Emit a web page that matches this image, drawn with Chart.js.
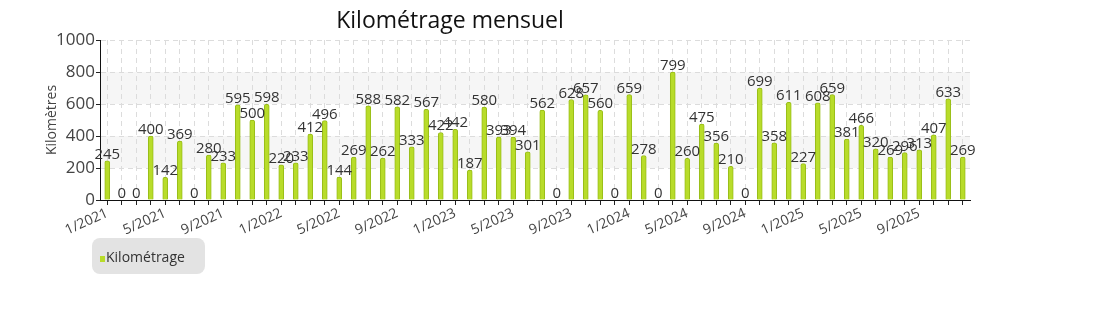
<!DOCTYPE html>
<html><head><meta charset="utf-8">
<script src="https://cdn.jsdelivr.net/npm/chart.js@4/dist/chart.umd.min.js"></script>
<style>html,body{margin:0;padding:0;background:#fff;}#wrap{width:1100px;height:320px;}</style>
</head><body><div id="wrap"><canvas id="c" width="1100" height="320"></canvas></div>
<script>
const chartTitle = 'Kilométrage mensuel';
const seriesName = 'Kilométrage';
const yAxisTitle = 'Kilomètres';
const months = [
 '1/2021','2/2021','3/2021','4/2021','5/2021','6/2021','7/2021','8/2021','9/2021','10/2021','11/2021','12/2021',
 '1/2022','2/2022','3/2022','4/2022','5/2022','6/2022','7/2022','8/2022','9/2022','10/2022','11/2022','12/2022',
 '1/2023','2/2023','3/2023','4/2023','5/2023','6/2023','7/2023','8/2023','9/2023','10/2023','11/2023','12/2023',
 '1/2024','2/2024','3/2024','4/2024','5/2024','6/2024','7/2024','8/2024','9/2024','10/2024','11/2024','12/2024',
 '1/2025','2/2025','3/2025','4/2025','5/2025','6/2025','7/2025','8/2025','9/2025','10/2025','11/2025','12/2025'];
const kilometres = [
 245,0,0,400,142,369,0,280,233,595,500,598,
 220,233,412,496,144,269,588,262,582,333,567,422,
 442,187,580,393,394,301,562,0,628,657,560,0,
 659,278,0,799,260,475,356,210,0,699,358,611,
 227,608,659,381,466,320,269,296,313,407,633,269];
const shownMonthLabels = ['1/2021','5/2021','9/2021','1/2022','5/2022','9/2022','1/2023','5/2023','9/2023','1/2024','5/2024','9/2024','1/2025','5/2025','9/2025'];
const shadedBands = [[200,400],[600,800]];

const FONT = '"Open Sans", "DejaVu Sans", sans-serif';
const TXT = '#444';

const bandsPlugin = {
  id: 'bands',
  beforeDraw(chart) {
    const {ctx, chartArea: a, scales: {y}} = chart;
    ctx.save();
    ctx.fillStyle = '#f6f6f6';
    shadedBands.forEach(([lo, hi]) => {
      const t = y.getPixelForValue(hi), b = y.getPixelForValue(lo);
      ctx.fillRect(a.left, t, a.right - a.left, b - t);
    });
    ctx.restore();
  }
};
const valueLabels = {
  id: 'valueLabels',
  afterDatasetsDraw(chart) {
    const {ctx} = chart;
    ctx.save();
    ctx.font = '15px ' + FONT;
    ctx.fillStyle = '#333';
    ctx.textAlign = 'center';
    ctx.textBaseline = 'alphabetic';
    chart.getDatasetMeta(0).data.forEach((el, i) => {
      ctx.fillText(String(chart.data.datasets[0].data[i]), el.x, el.y - 2);
    });
    ctx.restore();
  }
};
const titlePlugin = {
  id: 'titleDraw',
  afterDraw(chart) {
    const {ctx} = chart;
    ctx.save();
    ctx.font = '23px ' + FONT;
    ctx.fillStyle = '#111';
    ctx.textAlign = 'center';
    ctx.textBaseline = 'middle';
    ctx.fillText(chartTitle, 450, 21);
    // legend box
    ctx.fillStyle = '#e3e3e3';
    ctx.beginPath();
    ctx.roundRect(92, 238, 113, 36, 8);
    ctx.fill();
    const ds = chart.data.datasets[0];
    ctx.fillStyle = ds.backgroundColor;
    ctx.fillRect(100, 256, 5, 6);
    ctx.font = '14px ' + FONT;
    ctx.fillStyle = '#333';
    ctx.textAlign = 'left';
    ctx.textBaseline = 'alphabetic';
    ctx.fillText(ds.label, 106, 262);
    ctx.restore();
  }
};

new Chart(document.getElementById('c'), {
  type: 'bar',
  data: {
    labels: months,
    datasets: [{
      label: seriesName,
      data: kilometres,
      backgroundColor: '#b8dc2a',
      borderColor: '#98bd18',
      borderWidth: 1,
      borderRadius: 2,
      borderSkipped: 'bottom',
      barThickness: 5
    }]
  },
  options: {
    responsive: false,
    animation: false,
    layout: {padding: {left: 0, right: 130, top: 40, bottom: 80}},
    plugins: {legend: {display: false}, title: {display: false}, tooltip: {enabled: false}},
    scales: {
      x: {
        offset: true,
        grid: {offset: false, color: '#dcdcdc', tickColor: '#222', tickLength: 5, drawOnChartArea: true, tickBorderDash: []},
        border: {color: '#111', width: 1, dash: [5, 4]},
        ticks: {
          autoSkip: false, minRotation: 24, maxRotation: 24, padding: 0,
          color: TXT, font: {family: FONT, size: 14},
          callback(v, i) { const l = this.getLabelForValue(v); return shownMonthLabels.includes(l) ? l : ''; }
        },
        afterFit(s) { s.height = 40; }
      },
      y: {
        min: 0, max: 1000,
        grid: {
          color: '#dcdcdc',
          tickColor: (c) => (c.tick && c.tick.value % 200 === 0) ? '#222' : '#e00',
          tickLength: 4,
          tickBorderDash: []
        },
        border: {color: '#111', width: 1, dash: [5, 4]},
        ticks: {
          stepSize: 100, padding: 1, color: TXT, font: {family: FONT, size: 17},
          callback: (v) => v % 200 === 0 ? v : ''
        },
        title: {display: true, text: yAxisTitle, color: TXT, font: {family: FONT, size: 14}, padding: {top: 44, bottom: 0}},
        afterFit(s) { s.width = 100; }
      }
    }
  },
  plugins: [bandsPlugin, valueLabels, titlePlugin]
});
</script></body></html>
